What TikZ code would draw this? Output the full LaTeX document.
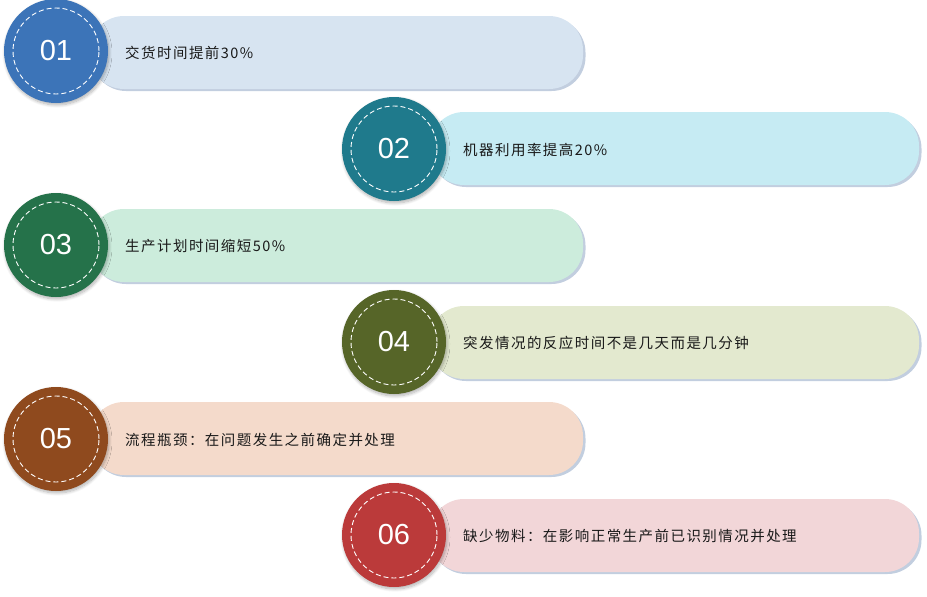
\documentclass[tikz,border=0pt]{standalone}
\usepackage{fontspec}
\setmainfont{Liberation Sans}
\newfontfamily\cjk[LetterSpace=10]{Noto Sans CJK SC}
\usetikzlibrary{shadows,shadows.blur}
\definecolor{cA}{HTML}{3C74B8}\definecolor{bA}{HTML}{D7E4F1}
\definecolor{cB}{HTML}{1F7A8C}\definecolor{bB}{HTML}{C6EBF3}
\definecolor{cC}{HTML}{25724A}\definecolor{bC}{HTML}{CCECDC}
\definecolor{cD}{HTML}{566528}\definecolor{bD}{HTML}{E3E9CF}
\definecolor{cE}{HTML}{8F4A1E}\definecolor{bE}{HTML}{F4DACB}
\definecolor{cF}{HTML}{BB3A3A}\definecolor{bF}{HTML}{F2D6D8}
\definecolor{shd}{HTML}{8FA5C4}
\tikzset{
  barbox/.style={rounded corners=34pt, draw=none},
  barshadow/.style={rounded corners=34pt, fill=shd, fill opacity=0.55, draw=none},
  numcirc/.style={circle, minimum size=104pt, inner sep=0pt, text=white, font=\fontsize{29}{29}\selectfont, blur shadow={shadow xshift=1pt, shadow yshift=-2pt, shadow blur steps=8, shadow blur radius=3pt, shadow opacity=30}},
  ring/.style={circle, draw=white, dash pattern=on 5pt off 3pt, line width=0.9pt, minimum size=86pt, inner sep=0pt},
  lbl/.style={anchor=west, font=\cjk\fontsize{14.5}{14.5}\selectfont, text=black!90, inner sep=0pt}
}
\begin{document}
\begin{tikzpicture}[x=1pt,y=-1pt]
\useasboundingbox (0,0) rectangle (927,597);
% row 1
\path[barshadow] (92,18.5) rectangle (585.5,91);
\fill[bA, barbox] (90,16) rectangle (583,89);
\node[numcirc, fill=cA] (c1) at (56,51) {01};
\node[ring] (r1) at (c1) {};
\node[lbl] (t1) at (125,53) {交货时间提前30\%};
% row 2
\path[barshadow] (432,114.5) rectangle (921.5,187);
\fill[bB, barbox] (430,112) rectangle (919,185);
\node[numcirc, fill=cB] (c2) at (394,149) {02};
\node[ring] (r2) at (c2) {};
\node[lbl] (t2) at (463,150) {机器利用率提高20\%};
% row 3
\path[barshadow] (92,211.5) rectangle (585.5,284);
\fill[bC, barbox] (90,209) rectangle (583,282);
\node[numcirc, fill=cC] (c3) at (56,245) {03};
\node[ring] (r3) at (c3) {};
\node[lbl] (t3) at (125,246) {生产计划时间缩短50\%};
% row 4
\path[barshadow] (432,308.5) rectangle (921.5,381);
\fill[bD, barbox] (430,306) rectangle (919,379);
\node[numcirc, fill=cD] (c4) at (394,342) {04};
\node[ring] (r4) at (c4) {};
\node[lbl] (t4) at (463,343) {突发情况的反应时间不是几天而是几分钟};
% row 5
\path[barshadow] (92,404.5) rectangle (585.5,477);
\fill[bE, barbox] (90,402) rectangle (583,475);
\node[numcirc, fill=cE] (c5) at (56,439) {05};
\node[ring] (r5) at (c5) {};
\node[lbl] (t5) at (125,440) {流程瓶颈：在问题发生之前确定并处理};
% row 6
\path[barshadow] (432,501.5) rectangle (921.5,574);
\fill[bF, barbox] (430,499) rectangle (919,572);
\node[numcirc, fill=cF] (c6) at (394,535) {06};
\node[ring] (r6) at (c6) {};
\node[lbl] (t6) at (463,536) {缺少物料：在影响正常生产前已识别情况并处理};
\end{tikzpicture}
\end{document}
